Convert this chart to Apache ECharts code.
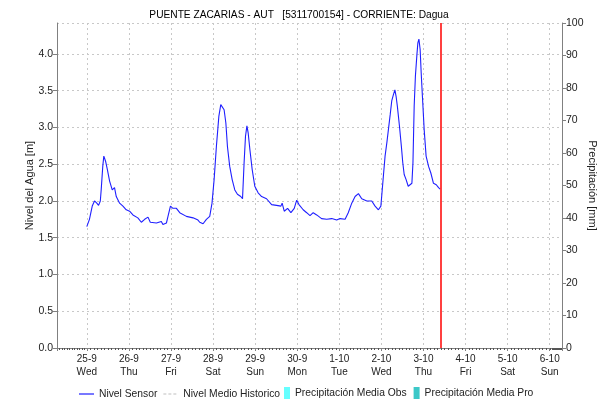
<!DOCTYPE html>
<html>
<head>
<meta charset="utf-8">
<script src="https://cdn.jsdelivr.net/npm/echarts@6/dist/echarts.min.js"></script>
<style>
  html, body { margin: 0; padding: 0; background: #fff; }
  #chart { width: 598px; height: 403px; }
</style>
</head>
<body>
<div id="chart"></div>
<script>
// hours since 25-9 00:00 and water level [m]
var startDay = new Date(2024, 8, 25).getTime();
var hours = [
  0, 1.5, 3.1, 4.4, 5.7, 6.7, 7.7, 8.2, 9.1, 9.7, 10.7, 11.7, 13.0, 14.5, 15.8, 16.8,
  18.7, 20.6, 22.5, 24.4, 26.3, 29.1, 31.1, 33.0, 34.9, 36.2, 39.7, 42.5, 43.4, 45.4,
  46.3, 47.7, 49.1, 51.1, 53.0, 56.8, 60.6, 63.4, 64.4, 66.3, 68.2, 70.1, 71.4, 72.6,
  73.9, 75.3, 76.4, 77.4, 78.3, 79.3, 80.2, 81.5, 82.9, 84.4, 85.9, 87.8, 88.8, 89.7,
  90.5, 91.3, 92.0, 93.0, 94.3, 95.8, 97.7, 99.7, 102.5, 105.4, 108.2, 110.7, 111.4,
  112.6, 114.5, 116.4, 118.3, 119.7, 121.0, 123.4, 125.4, 127.3, 129.1, 131.1, 133.9,
  136.8, 139.7, 142.5, 144.4, 147.3, 149.1, 151.1, 153.0, 154.9, 156.8, 159.7, 162.5,
  164.4, 166.3, 167.7, 169.1, 170.1, 171.1, 172.0, 173.0, 173.9, 174.9, 175.7, 176.4,
  177.1, 178.3, 179.4, 180.2, 181.0, 182.1, 183.3, 184.4, 185.4, 186.0, 186.7, 187.4,
  188.2, 188.8, 189.4, 190.1, 190.7, 191.4, 192.4, 193.5, 194.9, 196.2, 197.7, 199.3,
  200.6, 201.5
];
var levels = [
  1.65, 1.75, 1.93, 2.00, 1.97, 1.94, 2.00, 2.15, 2.47, 2.61, 2.54, 2.43, 2.27, 2.15, 2.18, 2.06,
  1.97, 1.93, 1.88, 1.86, 1.81, 1.77, 1.71, 1.75, 1.78, 1.71, 1.70, 1.72, 1.68, 1.70,
  1.79, 1.93, 1.90, 1.90, 1.84, 1.79, 1.77, 1.74, 1.71, 1.69, 1.75, 1.79, 1.97, 2.29,
  2.74, 3.15, 3.31, 3.32, 3.24, 3.06, 2.74, 2.47, 2.29, 2.15, 2.09, 2.06, 2.03, 2.52,
  2.88, 3.02, 2.93, 2.70, 2.43, 2.20, 2.11, 2.06, 2.03, 1.95, 1.94, 1.93, 1.97,
  1.86, 1.90, 1.84, 1.90, 2.01, 1.95, 1.88, 1.84, 1.80, 1.84, 1.81, 1.76,
  1.75, 1.76, 1.74, 1.76, 1.75, 1.84, 1.97, 2.06, 2.10, 2.03, 2.00, 2.00,
  1.93, 1.88, 1.93, 2.33, 2.61, 2.79, 2.97, 3.17, 3.36, 3.45, 3.51, 3.42,
  3.29, 3.02, 2.74, 2.52, 2.36, 2.29, 2.20, 2.18, 2.24, 2.52, 3.29, 3.70,
  3.97, 4.15, 4.20, 4.06, 3.74, 3.42, 2.97, 2.61, 2.47, 2.38, 2.24, 2.22,
  2.18, 2.16
];
var axisStartHour = -17;
var axisEndHour = 271;
var nowHour = 201.6;
var weekDays = ["Sun", "Mon", "Tue", "Wed", "Thu", "Fri", "Sat"];
var legendNames = ["Nivel Sensor", "Nivel Medio Historico", "Precipitación Media Obs", "Precipitación Media Pro"];

function hourToTime(h) {
  return startDay + h * 3600 * 1000;
}

var sensorData = hours.map(function (h, i) {
  return [hourToTime(h), levels[i]];
});

var myChart = echarts.init(document.getElementById("chart"));
var font = "Liberation Sans";
var day = 24 * 3600 * 1000;
var legendText = { fontSize: 10.3, color: "#222", fontFamily: font };

myChart.setOption({
  animation: false,
  textStyle: { fontFamily: font },
  title: {
    text: "PUENTE ZACARIAS - AUT   [5311700154] - CORRIENTE: Dagua",
    left: "center",
    top: 5,
    textStyle: { fontSize: 10.2, fontWeight: "normal", color: "#000", fontFamily: font },
  },
  grid: { left: 57, right: 36, top: 23, bottom: 55, outerBoundsMode: "none" },
  legend: [
    {
      left: 79,
      bottom: 4,
      padding: 0,
      itemGap: 6,
      itemWidth: 15,
      itemHeight: 12,
      textStyle: legendText,
      data: [
        { name: legendNames[0], icon: "path://M0,5.5h15v1.2h-15z" },
        { name: legendNames[1], icon: "path://M0,5.5h3v1.2h-3z M5,5.5h3v1.2h-3z M10,5.5h3v1.2h-3z M15,5.5h0v1.2h0z" },
      ],
    },
    {
      left: 284,
      bottom: 4,
      padding: 0,
      itemGap: 7,
      itemWidth: 6,
      itemHeight: 12,
      textStyle: legendText,
      data: [
        { name: legendNames[2], icon: "rect" },
        { name: legendNames[3], icon: "rect" },
      ],
    },
  ],
  xAxis: [
    {
      type: "time",
      min: hourToTime(axisStartHour),
      max: hourToTime(axisEndHour),
      minInterval: day,
      maxInterval: day,
      axisLine: { show: true, lineStyle: { color: "#808080" } },
      axisTick: { show: true, length: 3, lineStyle: { color: "#808080" } },
      minorTick: { show: true, splitNumber: 12, length: 2, lineStyle: { color: "#555" } },
      axisLabel: {
        fontSize: 10,
        color: "#222",
        lineHeight: 13,
        margin: 5,
        formatter: function (v) {
          var d = new Date(v);
          return d.getDate() + "-" + (d.getMonth() + 1) + "\n" + weekDays[d.getDay()];
        },
      },
      splitLine: { show: true, lineStyle: { color: "#c8c8c8", type: [2, 3] } },
    },
    {
      type: "time",
      position: "top",
      min: hourToTime(axisStartHour),
      max: hourToTime(axisEndHour),
      minInterval: day,
      maxInterval: day,
      axisLine: { show: true, lineStyle: { color: "#808080" } },
      axisTick: { show: true, inside: true, length: 3, lineStyle: { color: "#808080" } },
      axisLabel: { show: false },
      splitLine: { show: false },
    },
  ],
  yAxis: [
    {
      type: "value",
      min: 0,
      max: 4.42,
      interval: 0.5,
      name: "Nivel del Agua [m]",
      nameLocation: "middle",
      nameGap: 22,
      nameMoveOverlap: false,
      nameTextStyle: { fontSize: 11, color: "#222" },
      axisLine: { show: true, lineStyle: { color: "#808080" } },
      axisTick: { show: true, length: 4, lineStyle: { color: "#808080" } },
      axisLabel: {
        fontSize: 10.5,
        color: "#222",
        margin: 4,
        showMaxLabel: false,
        formatter: function (v) { return v.toFixed(1); },
      },
      splitLine: { show: true, lineStyle: { color: "#c8c8c8", type: [2, 3] } },
    },
    {
      type: "value",
      min: 0,
      max: 100,
      interval: 10,
      position: "right",
      name: "Precipitación [mm]",
      nameLocation: "middle",
      nameRotate: -90,
      nameGap: 25,
      nameMoveOverlap: false,
      nameTextStyle: { fontSize: 11, color: "#222" },
      axisLine: { show: true, lineStyle: { color: "#808080" } },
      axisTick: { show: true, length: 4, lineStyle: { color: "#808080" } },
      axisLabel: { fontSize: 10.5, color: "#222", margin: 4 },
      splitLine: { show: false },
    },
  ],
  series: [
    {
      name: legendNames[0],
      type: "line",
      data: sensorData,
      symbol: "none",
      color: "#1f1fff",
      lineStyle: { width: 1.1 },
      markLine: {
        silent: true,
        symbol: "none",
        label: { show: false },
        lineStyle: { color: "#ff0000", type: "solid", width: 1.5 },
        data: [{ xAxis: hourToTime(nowHour) }],
      },
    },
    {
      name: legendNames[1],
      type: "line",
      data: [],
      symbol: "none",
      color: "#c0c0c0",
    },
    {
      name: legendNames[2],
      type: "line",
      yAxisIndex: 1,
      data: [],
      symbol: "none",
      color: "#66ffff",
    },
    {
      name: legendNames[3],
      type: "line",
      yAxisIndex: 1,
      data: [],
      symbol: "none",
      color: "#3cc8c8",
    },
  ],
});
</script>
</body>
</html>
